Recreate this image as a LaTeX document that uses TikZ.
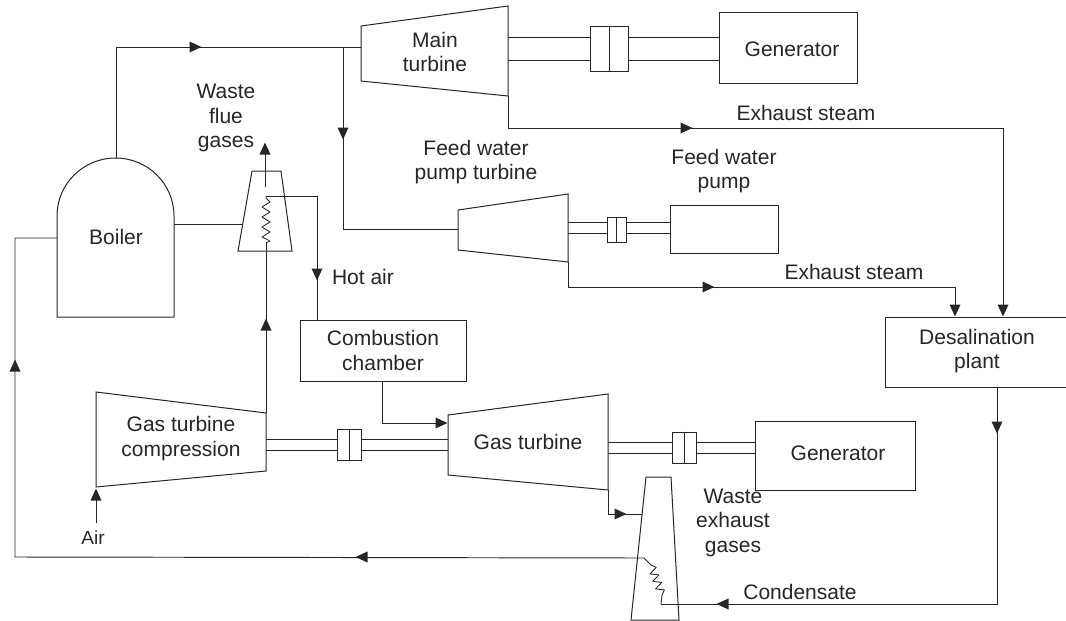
\documentclass[tikz,border=0pt]{standalone}
\usepackage{fontspec}
\setmainfont{Liberation Sans}
\definecolor{ink}{HTML}{262626}
\tikzset{
  line/.style={draw=ink,line width=0.95pt,line join=miter},
  part/.style={draw=ink,line width=1pt,line join=miter},
  wiggle/.style={draw=ink,line width=0.85pt,line join=round},
  boxnode/.style={draw=ink,line width=1pt,rectangle,inner sep=0pt,text=ink,font=\fontsize{21}{24.5}\selectfont,align=center},
  label/.style={inner sep=0pt,text=ink,font=\fontsize{21}{24.5}\selectfont,align=center},
  head/.pic={\fill[ink] (6.5,0)--(-5.5,5.5)--(-5.5,-5.5)--cycle;},
}
\begin{document}
\begin{tikzpicture}[x=1pt,y=-1pt]
\useasboundingbox (0,0) rectangle (1066,621);
% boxes
\node[boxnode,minimum width=138pt,minimum height=71pt] (genA) at (788,47.5) {};
\node[label] (genAt) at (792,49) {Generator};
\node[boxnode,minimum width=108pt,minimum height=48pt] (pump) at (724,229) {};
\node[boxnode,minimum width=166pt,minimum height=61pt] (comb) at (383,350.5) {Combustion\\chamber};
\node[boxnode,minimum width=160pt,minimum height=69pt] (genB) at (835,455.5) {};
\node[label] (genBt) at (838,453) {Generator};
\draw[part] (1068,317)--(885,317)--(885,387)--(1068,387);
\node[label] (plant) at (977,351) {Desalination\\plant};
% boiler
\coordinate (bA) at (57,317); \coordinate (bB) at (57,216); \coordinate (bC) at (174,216); \coordinate (bD) at (174,317);
\draw[part] (bA)--(bB) arc[start angle=180,end angle=0,x radius=58.5,y radius=-58]--(bD)--cycle;
\node[label] (boilerT) at (116,237) {Boiler};
\coordinate (bTop) at (116,158); \coordinate (bLeft) at (57,238); \coordinate (bRight) at (174,224);
% main turbine
\coordinate (mA) at (361,26); \coordinate (mB) at (508,6); \coordinate (mC) at (508,96); \coordinate (mD) at (361,81);
\draw[part] (mA)--(mB)--(mC)--(mD)--cycle;
\node[label] (mainT) at (435,52) {Main\\turbine};
% feed water turbine
\coordinate (fA) at (458,210); \coordinate (fB) at (568,194); \coordinate (fC) at (568,262); \coordinate (fD) at (458,250);
\draw[part] (fA)--(fB)--(fC)--(fD)--cycle;
% compressor
\coordinate (cA) at (96,392); \coordinate (cB) at (266,413); \coordinate (cC) at (266,471); \coordinate (cD) at (96,487);
\draw[part] (cA)--(cB)--(cC)--(cD)--cycle;
\node[label] (compT) at (181,438.5) {Gas turbine\\compression};
% gas turbine
\coordinate (gA) at (448,415); \coordinate (gB) at (608,394); \coordinate (gC) at (608,490); \coordinate (gD) at (448,475);
\draw[part] (gA)--(gB)--(gC)--(gD)--cycle;
\node[label] (gasT) at (528,442) {Gas turbine};
% couplings
\node[boxnode,minimum width=38pt,minimum height=45pt] (cp1) at (609,48.5) {};
\draw[part] (cp1.north)--(cp1.south);
\node[boxnode,minimum width=19pt,minimum height=25pt] (cp2) at (616.5,229.5) {};
\draw[part] (cp2.north)--(cp2.south);
\node[boxnode,minimum width=24pt,minimum height=31pt] (cp3) at (349,444.5) {};
\draw[part] (cp3.north)--(cp3.south);
\node[boxnode,minimum width=24pt,minimum height=31pt] (cp4) at (684,447.5) {};
\draw[part] (cp4.north)--(cp4.south);
% shafts
\foreach \y in {37,60}{
  \draw[line] (508,\y)--(cp1.west |- 0,\y);
  \draw[line] (cp1.east |- 0,\y)--(genA.west |- 0,\y);}
\foreach \y in {222,233}{
  \draw[line] (568,\y)--(cp2.west |- 0,\y);
  \draw[line] (cp2.east |- 0,\y)--(pump.west |- 0,\y);}
\foreach \y in {439,450}{
  \draw[line] (266,\y)--(cp3.west |- 0,\y);
  \draw[line] (cp3.east |- 0,\y)--(448,\y);}
\foreach \y in {442,453}{
  \draw[line] (608,\y)--(cp4.west |- 0,\y);
  \draw[line] (cp4.east |- 0,\y)--(genB.west |- 0,\y);}
% heater stack
\coordinate (hA) at (252,171); \coordinate (hB) at (281,171); \coordinate (hC) at (292,251); \coordinate (hD) at (238,251);
\draw[part] (hA)--(hB)--(hC)--(hD)--cycle;
\coordinate (hL) at (243,224); \coordinate (hTop) at (266,196); \coordinate (hBot) at (266,243);
\coordinate (ahCorner) at (317,196); \coordinate (ahEnd) at (317,320);
\draw[line] (bRight)--(hL);
\draw[wiggle] (hTop)--(266,198)--(270,202)--(262,207)--(270,212)--(262,217)--(270,222)--(262,227)--(270,232)--(262,237)--(270,241)--(hBot);
\draw[line] (hBot)--(cB);
\draw[line] (hTop)--(ahCorner)--(ahEnd);
\coordinate (fgS) at (265,187); \coordinate (fgE) at (265,148);
\draw[line] (fgS)--(fgE);
\pic[rotate=90] at (265,149) {head};
\pic[rotate=90] at (266,325) {head};
\pic[rotate=270] at (317,274) {head};
% stack
\coordinate (sA) at (646,477); \coordinate (sB) at (671,477); \coordinate (sC) at (679,620); \coordinate (sD) at (631,620);
\draw[part] (sA)--(sB)--(sC)--(sD)--cycle;
\coordinate (sIn) at (642,514); \coordinate (sL) at (644,558); \coordinate (sR) at (661,604);
\draw[line] (gC)--(608,514)--(sIn);
\pic at (620,514) {head};
\draw[wiggle] (sL)--(651,565)--(656.2,567.4)--(650,573.9)--(658.9,574.9)--(652.7,581.4)--(661.7,582.4)--(655.5,588.9)--(664.4,589.9)--(662,595)--(sR);
% steam lines
\draw[line] (bTop)--(116,47)--(361,47);
\pic at (195,47) {head};
\draw[line] (343,47)--(343,229)--(458,229);
\pic[rotate=270] at (343,133) {head};
\draw[line] (mC)--(508,128)--(1003,128)--(1003,310);
\pic at (686,128) {head};
\pic[rotate=270] at (1003,310) {head};
\draw[line] (fC)--(568,287)--(955,287)--(955,310);
\pic at (708,287) {head};
\pic[rotate=270] at (955,310) {head};
% combustion to gas turbine
\draw[line] (382,381)--(382,423)--(441,423);
\pic at (441,423) {head};
% air
\coordinate (airS) at (96,523);
\draw[line] (airS)--(96,495);
\pic[rotate=90] at (96,495) {head};
% condensate
\draw[line] (997,387)--(997,604)--(sR);
\pic[rotate=270] at (997,427) {head};
\pic[rotate=180] at (723,604) {head};
% return
\draw[line] (sL)--(15,557)--(15,238)--(bLeft);
\pic[rotate=180] at (362,557) {head};
\pic[rotate=90] at (15,366) {head};
% labels
\node[label] (exA) at (806,113) {Exhaust steam};
\node[label] (exB) at (854,272) {Exhaust steam};
\node[label] (flue) at (226,118) {Waste\\flue\\gases};
\node[label] (fwt) at (476,162) {Feed water\\pump turbine};
\node[label] (fwp) at (724,171) {Feed water\\pump};
\node[label] (hot) at (363,277) {Hot air};
\node[label] (waste) at (733,522.5) {Waste\\exhaust\\gases};
\node[label] (cond) at (800,592) {Condensate};
\node[label,font=\fontsize{19}{22}\selectfont] (air) at (93,538) {Air};
\end{tikzpicture}
\end{document}
